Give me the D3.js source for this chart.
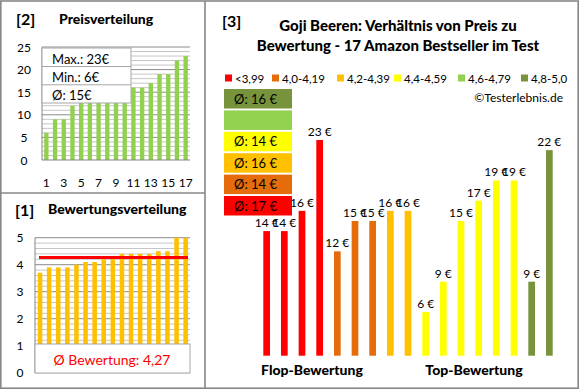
<!DOCTYPE html>
<html><head><meta charset="utf-8">
<script src="https://cdn.jsdelivr.net/npm/d3@7"></script>
<style>body{margin:0;background:#fff}svg{display:block;font-family:Lato,"Open Sans",sans-serif}</style>
</head><body><svg id="c" width="580" height="390"></svg>
<script>
// ---- data ----
const priceRank = d3.range(1, 18);
const pricesSorted = [6,9,9,12,14,14,15,15,15,16,16,16,17,19,19,22,23];
const priceTicks = [0,5,10,15,20,25];
const priceXTicks = [1,3,5,7,9,11,13,15,17];
const priceStats = ["Max.: 23€","Min.: 6€","Ø: 15€"];
const ratingsSorted = [3.7,3.9,3.9,3.9,4.0,4.1,4.1,4.2,4.2,4.4,4.4,4.4,4.4,4.5,4.5,5.0,5.0];
const ratingAvg = 4.27;
const ratingAvgLabel = "Ø Bewertung: 4,27";
const ratingTicks = [0,1,2,3,4,5];
const categories = ["<3,99","4,0-4,19","4,2-4,39","4,4-4,59","4,6-4,79","4,8-5,0"];
const catColors = ["#FF0000","#E46C0A","#FFC000","#FFFF00","#92D050","#77933C"];
const catAvgLabels = ["Ø: 17 €","Ø: 14 €","Ø: 16 €","Ø: 14 €","","Ø: 16 €"];
const productCat = [0,0,0,0,1,1,1,2,2,3,3,3,3,3,3,5,5];
const productPrice = [14,14,16,23,12,15,15,16,16,6,9,15,17,19,19,9,22];

const svg = d3.select("#c");
const frame = "#878787";

// ---- panel frames ----
const fr = svg.append("g").attr("stroke", frame).attr("stroke-width", 1.6).attr("fill", "none");
fr.append("rect").attr("x", 0.8).attr("y", 1).attr("width", 577.4).attr("height", 387.2);
fr.append("line").attr("x1", 205).attr("x2", 205).attr("y1", 1).attr("y2", 388);
fr.append("line").attr("x1", 0).attr("x2", 205).attr("y1", 193).attr("y2", 193);

// ================= [2] Preisverteilung =================
const gP = svg.append("g");
gP.append("text").attr("x", 16).attr("y", 25).attr("font-size", 16).attr("font-weight", "bold").text("[2]");
gP.append("text").attr("x", 59).attr("y", 24).attr("font-size", 14).attr("font-weight", "900").text("Preisverteilung");

const xP = d3.scaleBand().domain(priceRank).range([42, 190]).paddingInner(0.5).paddingOuter(0.25);
const yP = d3.scaleLinear().domain([0, 25]).range([160, 47]);

gP.append("g").selectAll("line").data(d3.range(1, 25).filter(v => v % 5 !== 0)).join("line")
  .attr("x1", 42).attr("x2", 190).attr("y1", d => yP(d)).attr("y2", d => yP(d))
  .attr("stroke", "#c6c6c6").attr("stroke-width", 1);
gP.append("g").selectAll("line").data(priceTicks.slice(1)).join("line")
  .attr("x1", 42).attr("x2", 190).attr("y1", d => yP(d)).attr("y2", d => yP(d))
  .attr("stroke", "#8c8c8c").attr("stroke-width", 1);

gP.append("g").selectAll("rect").data(pricesSorted).join("rect")
  .attr("x", (d, i) => xP(priceRank[i])).attr("width", xP.bandwidth())
  .attr("y", d => yP(d)).attr("height", d => yP(0) - yP(d)).attr("fill", "#92D050");

gP.append("line").attr("x1", 42).attr("x2", 42).attr("y1", yP(25)).attr("y2", yP(0)).attr("stroke", "#868686");
gP.append("line").attr("x1", 42).attr("x2", 190).attr("y1", yP(0)).attr("y2", yP(0)).attr("stroke", "#868686").attr("stroke-width", 1.2);

gP.append("g").selectAll("text").data(priceTicks).join("text")
  .attr("x", 24).attr("y", d => yP(d) + 4.5).attr("text-anchor", "middle").attr("font-size", 12).text(d => d);
gP.append("g").selectAll("text").data(priceXTicks).join("text")
  .attr("x", d => xP(d) + xP.bandwidth() / 2).attr("y", 187).attr("text-anchor", "middle").attr("font-size", 12).text(d => d);

// stats box
const bx = gP.append("g");
bx.append("rect").attr("x", 42).attr("y", 48).attr("width", 89).attr("height", 55).attr("fill", "#fff").attr("stroke", "#a6a6a6");
[66.5, 84.8].forEach(y => bx.append("line").attr("x1", 42).attr("x2", 131).attr("y1", y).attr("y2", y).attr("stroke", "#a6a6a6"));
bx.selectAll("text").data(priceStats).join("text")
  .attr("x", 52).attr("y", (d, i) => 63.5 + i * 18.2).attr("font-size", 13).text(d => d);

// ================= [1] Bewertungsverteilung =================
const gR = svg.append("g");
gR.append("text").attr("x", 15).attr("y", 216).attr("font-size", 16).attr("font-weight", "bold").text("[1]");
gR.append("text").attr("x", 48).attr("y", 214).attr("font-size", 14).attr("font-weight", "900").text("Bewertungsverteilung");

const xR = d3.scaleBand().domain(priceRank).range([35.5, 190.2]).paddingInner(0.5).paddingOuter(0.25);
const yR = d3.scaleLinear().domain([0, 5]).range([372.7, 237.7]);

gR.append("g").selectAll("line").data(d3.range(1, 25).filter(v => v % 5 !== 0).map(v => v / 5)).join("line")
  .attr("x1", 35).attr("x2", 190).attr("y1", d => yR(d)).attr("y2", d => yR(d))
  .attr("stroke", "#c6c6c6");
gR.append("g").selectAll("line").data(ratingTicks.slice(1)).join("line")
  .attr("x1", 35).attr("x2", 190).attr("y1", d => yR(d)).attr("y2", d => yR(d))
  .attr("stroke", "#8c8c8c");

gR.append("g").selectAll("rect").data(ratingsSorted).join("rect")
  .attr("x", (d, i) => xR(priceRank[i])).attr("width", xR.bandwidth())
  .attr("y", d => yR(d)).attr("height", d => yR(0) - yR(d)).attr("fill", "#FFC000");

gR.append("line").attr("x1", 35).attr("x2", 35).attr("y1", yR(5)).attr("y2", yR(0)).attr("stroke", "#868686");
gR.append("line").attr("x1", 35).attr("x2", 190).attr("y1", yR(0)).attr("y2", yR(0)).attr("stroke", "#868686");

gR.append("line").attr("x1", 39).attr("x2", 188).attr("y1", yR(ratingAvg)).attr("y2", yR(ratingAvg))
  .attr("stroke", "#FF0000").attr("stroke-width", 3);

gR.append("g").selectAll("text").data(ratingTicks).join("text")
  .attr("x", 20).attr("y", d => yR(d) + 4.5).attr("text-anchor", "middle").attr("font-size", 12).text(d => d);

gR.append("rect").attr("x", 35).attr("y", 344).attr("width", 155).attr("height", 29).attr("fill", "#fff").attr("stroke", "#a6a6a6");
gR.append("text").attr("x", 112).attr("y", 365).attr("text-anchor", "middle").attr("font-size", 14)
  .attr("fill", "#FF0000").text(ratingAvgLabel);

// ================= [3] Preis zu Bewertung =================
const gB = svg.append("g");
gB.append("text").attr("x", 222).attr("y", 27).attr("font-size", 16).attr("font-weight", "bold").text("[3]");
gB.append("text").attr("x", 398).attr("y", 31).attr("text-anchor", "middle").attr("font-size", 15).attr("font-weight", "900")
  .text("Goji Beeren: Verhältnis von Preis zu");
gB.append("text").attr("x", 398).attr("y", 51).attr("text-anchor", "middle").attr("font-size", 15).attr("font-weight", "900")
  .text("Bewertung - 17 Amazon Bestseller im Test");

// legend
const legX = [225, 272, 337, 394, 458, 521];
const lg = gB.append("g").selectAll("g").data(categories).join("g").attr("transform", (d, i) => `translate(${legX[i]},0)`);
lg.append("rect").attr("x", 0).attr("y", 74.5).attr("width", 7).attr("height", 7).attr("fill", (d, i) => catColors[i]);
lg.append("text").attr("x", 10).attr("y", 82.5).attr("font-size", 11.5).text(d => d);

gB.append("text").attr("x", 563).attr("y", 102).attr("text-anchor", "end").attr("font-size", 12).text("©Testerlebnis.de");

const xB = d3.scaleBand().domain(d3.range(productPrice.length)).range([258, 558]).paddingInner(0.62).paddingOuter(0.3);
const yB = d3.scaleLinear().domain([0, 23]).range([372.8, 140]);
const base = 355.7;

gB.append("g").selectAll("rect").data(productPrice).join("rect")
  .attr("x", (d, i) => xB(i)).attr("width", xB.bandwidth())
  .attr("y", d => yB(d)).attr("height", d => base - yB(d))
  .attr("fill", (d, i) => catColors[productCat[i]]);

gB.append("g").selectAll("text").data(productPrice).join("text")
  .attr("x", (d, i) => xB(i) + xB.bandwidth() / 2).attr("y", d => yB(d) - 4)
  .attr("text-anchor", "middle").attr("font-size", 12).text(d => d + " €");

// average boxes (top: last category)
const boxG = gB.append("g").selectAll("g").data(categories).join("g")
  .attr("transform", (d, i) => `translate(224,${89 + (5 - i) * 21.4})`);
boxG.append("rect").attr("width", 68).attr("height", 19.5).attr("fill", (d, i) => catColors[i]);
boxG.append("text").attr("x", 10).attr("y", 14.5).attr("font-size", 13).text((d, i) => catAvgLabels[i]);

gB.append("text").attr("x", 312).attr("y", 375).attr("text-anchor", "middle").attr("font-size", 14).attr("font-weight", "900").text("Flop-Bewertung");
gB.append("text").attr("x", 474).attr("y", 375).attr("text-anchor", "middle").attr("font-size", 14).attr("font-weight", "900").text("Top-Bewertung");
</script>
</body></html>
